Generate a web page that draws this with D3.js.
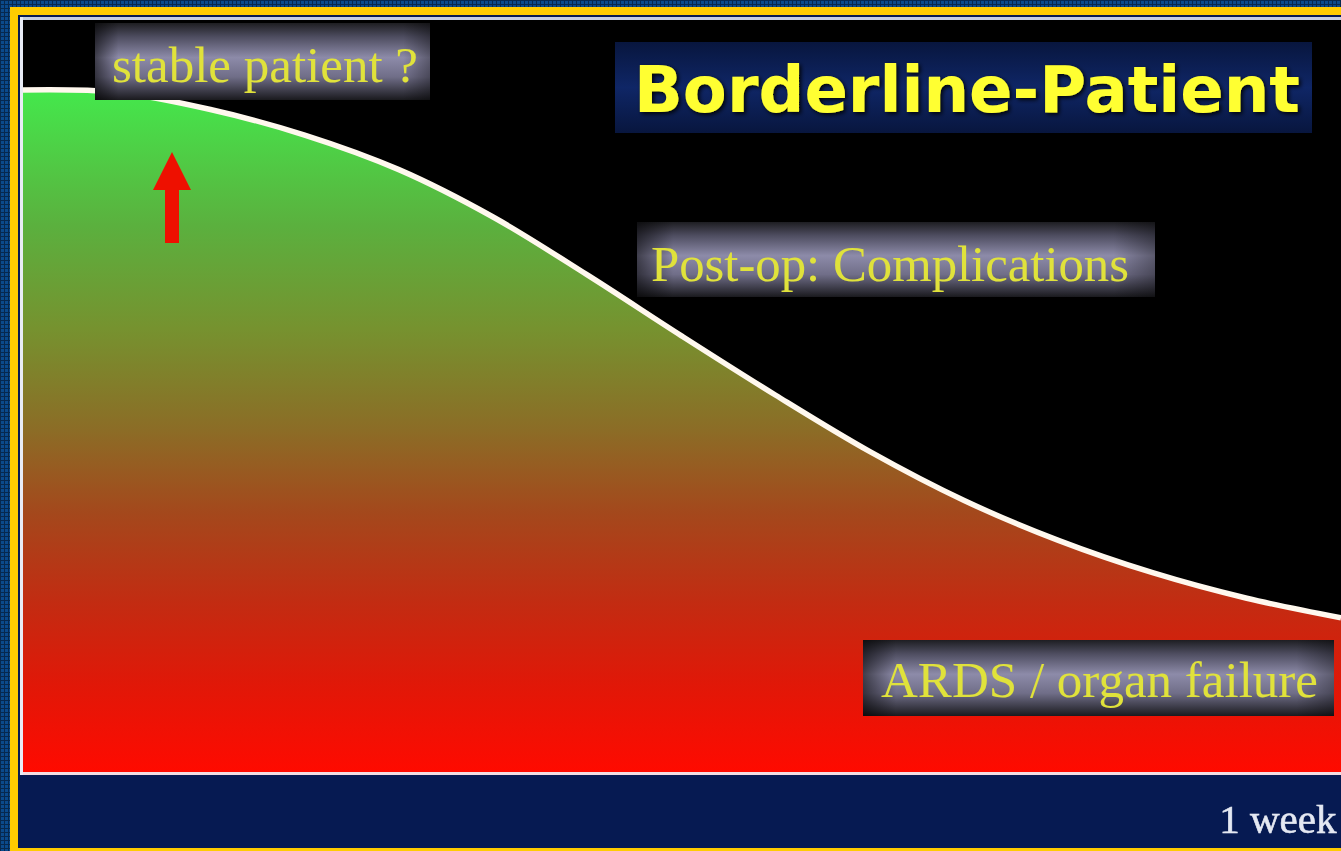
<!DOCTYPE html>
<html>
<head>
<meta charset="utf-8">
<script src="https://cdn.jsdelivr.net/npm/d3@7"></script>
<style>
  html, body { margin: 0; padding: 0; background: #0a3570; overflow: hidden; }
  svg { display: block; }
</style>
</head>
<body>
<svg id="chart" width="1341" height="851"></svg>
<script>
// values: patient condition (0-100) over one week
const days = [0, 0.5, 1, 1.5, 2, 2.5, 3, 3.5, 4, 4.5, 5, 5.5, 6, 6.5, 7];
const condition = [90.7, 90.4, 88.1, 84.7, 80.1, 73.8, 66.1, 58.0, 50.1, 42.6, 36.1, 30.8, 26.5, 23.1, 20.5];
const xTicks = [7];
const xTickLabels = ["1 week"];
const title = "Borderline-Patient";
const labels = ["stable patient ?", "Post-op: Complications", "ARDS / organ failure"];

const W = 1341, H = 851;
const plot = { left: 22, right: 1341, top: 20, bottom: 772 };

const svg = d3.select("#chart");
const defs = svg.append("defs");

// tiled blue backdrop of the slide
const pat = defs.append("pattern").attr("id", "tiles")
  .attr("width", 4).attr("height", 4).attr("patternUnits", "userSpaceOnUse");
pat.append("rect").attr("width", 4).attr("height", 4).attr("fill", "#0b4a8c");
pat.append("rect").attr("width", 4).attr("height", 1).attr("fill", "#06284f");
pat.append("rect").attr("width", 1).attr("height", 4).attr("fill", "#06284f");

const fillGrad = defs.append("linearGradient").attr("id", "fillGrad")
  .attr("gradientUnits", "userSpaceOnUse").attr("x1", 0).attr("x2", 0).attr("y1", 90).attr("y2", plot.bottom);
[[0, "#44e84c"], [0.2, "#5bb03e"], [0.35, "#76922f"], [0.5, "#8c6c26"],
 [0.62, "#a4481c"], [0.75, "#c22c12"], [0.87, "#e01808"], [1, "#ff0a00"]]
  .forEach(([o, c]) => fillGrad.append("stop").attr("offset", o).attr("stop-color", c));

const boxV = defs.append("linearGradient").attr("id", "boxV").attr("x1", 0).attr("x2", 0).attr("y1", 0).attr("y2", 1);
[[0, "#1e1e22"], [0.18, "#4e4d60"], [0.45, "#8d8ba9"], [0.7, "#706e88"], [1, "#1a1a1e"]]
  .forEach(([o, c]) => boxV.append("stop").attr("offset", o).attr("stop-color", c));
const boxH = defs.append("linearGradient").attr("id", "boxH");
[[0, 0.55], [0.07, 0], [0.92, 0], [1, 0.35]]
  .forEach(([o, a]) => boxH.append("stop").attr("offset", o).attr("stop-color", "#000").attr("stop-opacity", a));

const titleGrad = defs.append("linearGradient").attr("id", "titleGrad").attr("x1", 0).attr("x2", 0).attr("y1", 0).attr("y2", 1);
[[0, "#08163e"], [0.5, "#0f2666"], [1, "#08163e"]]
  .forEach(([o, c]) => titleGrad.append("stop").attr("offset", o).attr("stop-color", c));

const shadow = defs.append("filter").attr("id", "shadow").attr("x", "-10%").attr("y", "-30%").attr("width", "120%").attr("height", "160%");
shadow.append("feDropShadow").attr("dx", 2).attr("dy", 2).attr("stdDeviation", 2).attr("flood-color", "#000").attr("flood-opacity", 0.9);
const soft = defs.append("filter").attr("id", "soft");
soft.append("feGaussianBlur").attr("stdDeviation", 0.6);

// frame
svg.append("rect").attr("width", W).attr("height", H).attr("fill", "url(#tiles)");
svg.append("rect").attr("x", 10).attr("y", 7).attr("width", W).attr("height", H).attr("fill", "#ffcc00");
svg.append("rect").attr("x", 18).attr("y", 15).attr("width", W).attr("height", 833).attr("fill", "#061a52");
svg.append("rect").attr("x", 20).attr("y", 17).attr("width", W).attr("height", 3).attr("fill", "#c6cfe0");
svg.append("rect").attr("x", plot.left).attr("y", plot.top)
  .attr("width", plot.right - plot.left).attr("height", plot.bottom - plot.top).attr("fill", "#000");

const x = d3.scaleLinear().domain([0, 7]).range([plot.left, plot.right]);
const y = d3.scaleLinear().domain([0, 100]).range([plot.bottom, plot.top]);

const pts = days.map((d, i) => ({ day: d, value: condition[i] }));
const curve = d3.curveCatmullRom.alpha(0.5);

svg.append("path").datum(pts)
  .attr("fill", "url(#fillGrad)")
  .attr("d", d3.area().x(d => x(d.day)).y0(y(0)).y1(d => y(d.value)).curve(curve));

svg.append("path").datum(pts)
  .attr("fill", "none").attr("stroke", "#fff8ee").attr("stroke-width", 5.5)
  .attr("d", d3.line().x(d => x(d.day)).y(d => y(d.value)).curve(curve));

// baseline and left edge
svg.append("rect").attr("x", 20).attr("y", plot.bottom).attr("width", W).attr("height", 3).attr("fill", "#f2dde2");
svg.append("rect").attr("x", 20).attr("y", 17).attr("width", 3).attr("height", plot.bottom - 14).attr("fill", "#e8ecf6");

// x axis: only the end tick
const axis = svg.append("g").attr("transform", `translate(0,${plot.bottom})`)
  .call(d3.axisBottom(x).tickValues(xTicks).tickFormat((d, i) => xTickLabels[i]).tickSize(0));
axis.select(".domain").remove();
axis.selectAll("text")
  .attr("y", 61).attr("dy", 0).attr("dx", -5)
  .attr("text-anchor", "end")
  .attr("fill", "#e4e8f2")
  .attr("stroke", "#e4e8f2").attr("stroke-width", 0.6)
  .attr("font-family", "'Liberation Serif', 'DejaVu Serif', serif")
  .attr("font-size", 41)
  .attr("filter", "url(#soft)");

// red arrow at the stable phase
const arrow = d3.path();
arrow.moveTo(172, 152);
arrow.lineTo(191, 190);
arrow.lineTo(179, 190);
arrow.lineTo(179, 243);
arrow.lineTo(165, 243);
arrow.lineTo(165, 190);
arrow.lineTo(153, 190);
arrow.closePath();
svg.append("path").attr("d", arrow.toString()).attr("fill", "#ee1000");

// grey label boxes
const boxes = [
  { x: 95, y: 23, w: 335, h: 77, tx: 112, ty: 82, len: 306 },
  { x: 637, y: 222, w: 518, h: 75, tx: 651, ty: 281, len: 478 },
  { x: 863, y: 640, w: 471, h: 76, tx: 881, ty: 697, len: 437 }
];
boxes.forEach((b, i) => {
  const g = svg.append("g");
  g.append("rect").attr("x", b.x).attr("y", b.y).attr("width", b.w).attr("height", b.h).attr("fill", "url(#boxV)");
  g.append("rect").attr("x", b.x).attr("y", b.y).attr("width", b.w).attr("height", b.h).attr("fill", "url(#boxH)");
  g.append("text").attr("x", b.tx).attr("y", b.ty)
    .attr("font-family", "'Liberation Serif', 'DejaVu Serif', serif")
    .attr("font-size", 50)
    .attr("textLength", b.len).attr("lengthAdjust", "spacingAndGlyphs")
    .attr("fill", "#e0e23a")
    .attr("filter", "url(#soft)")
    .text(labels[i]);
});

// title
svg.append("rect").attr("x", 615).attr("y", 42).attr("width", 697).attr("height", 91).attr("fill", "url(#titleGrad)");
svg.append("text").attr("x", 634).attr("y", 112)
  .attr("font-family", "'DejaVu Sans', Verdana, sans-serif")
  .attr("font-weight", "bold")
  .attr("font-size", 64)
  .attr("textLength", 666).attr("lengthAdjust", "spacingAndGlyphs")
  .attr("fill", "#ffff30")
  .attr("filter", "url(#shadow)")
  .text(title);
</script>
</body>
</html>
